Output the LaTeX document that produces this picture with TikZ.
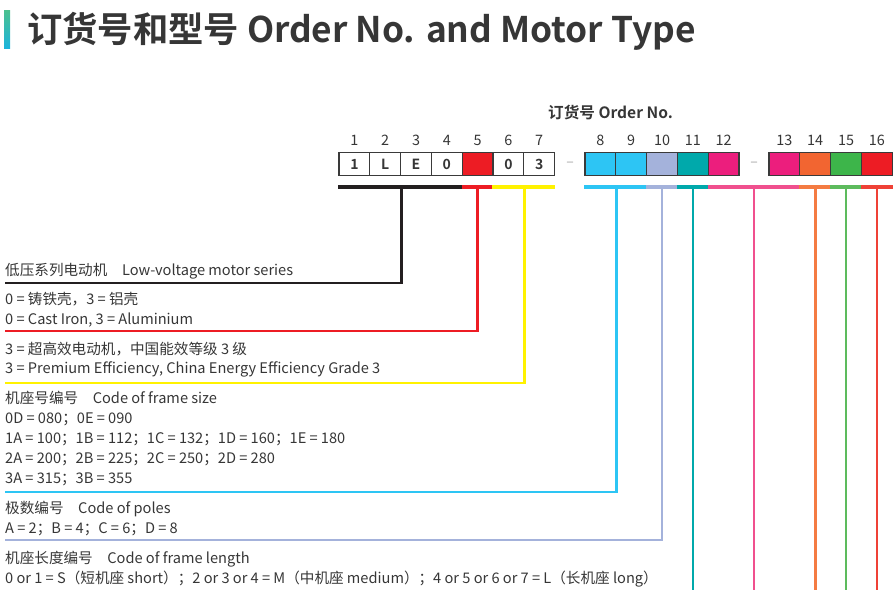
\documentclass[tikz,border=0pt]{standalone}
\usepackage{fontspec}
\setmainfont{Noto Sans CJK SC}[BoldFont={Noto Sans CJK SC Bold}]
\usetikzlibrary{calc}

\definecolor{ink}{HTML}{363636}
\definecolor{cellline}{HTML}{3A3A3A}
\definecolor{titlegreen}{HTML}{4CC08E}
\definecolor{titlecyan}{HTML}{1CB4DC}
\definecolor{cblack}{HTML}{231F20}
\definecolor{cred}{HTML}{ED1C24}
\definecolor{cyellow}{HTML}{FFF200}
\definecolor{csky}{HTML}{2DC5F4}
\definecolor{clav}{HTML}{A4B2DB}
\definecolor{cteal}{HTML}{00A9AB}
\definecolor{cpink}{HTML}{EC1E7D}
\definecolor{lpink}{HTML}{F0508E}
\definecolor{corange}{HTML}{F26531}
\definecolor{lorange}{HTML}{F47B42}
\definecolor{cgreen}{HTML}{3DB54A}
\definecolor{lgreen}{HTML}{5DBB5D}
\definecolor{lred}{HTML}{EF4136}

\tikzset{
  title/.style={anchor=base west, inner sep=0pt, text=ink, font=\bfseries\fontsize{35.3}{40}\selectfont},
  head/.style={anchor=base west, inner sep=0pt, text=ink, font=\bfseries\fontsize{15.6}{18}\selectfont},
  num/.style={anchor=base, inner sep=0pt, text=ink, font=\fontsize{14.4}{16}\selectfont},
  cell/.style={draw=cellline, line width=1.2pt, minimum width=30.8pt, minimum height=23pt, inner sep=0pt, text=ink, font=\bfseries\fontsize{14}{16}\selectfont},
  sep/.style={inner sep=0pt, text=gray!70, font=\fontsize{14}{16}\selectfont},
  txt/.style={anchor=base west, inner sep=0pt, text=ink, font=\fontsize{14.6}{16}\selectfont},
  bar/.style={line width=3.2pt},
  link/.style={line width=2.6pt}
}

\begin{document}
\begin{tikzpicture}[x=1pt,y=-1pt]
\useasboundingbox (0,0) rectangle (895,590);

% title
\shade[top color=titlegreen, bottom color=titlecyan] (4,10) rectangle (10,48);
\node[title] (title) at (27,42) {订货号和型号 Order No. and Motor Type};

% order number
\node[head] (head) at (548,118) {订货号 Order No.};

\foreach \i/\x/\t/\f in {1/354.4/1/white, 2/385.2/L/white, 3/416/E/white, 4/446.8/0/white,
    5/477.6/{}/cred, 6/508.4/0/white, 7/539.2/3/white,
    8/600.4/{}/csky, 9/631.2/{}/csky, 10/662/{}/clav, 11/692.8/{}/cteal, 12/723.6/{}/cpink,
    13/784.4/{}/cpink, 14/815.2/{}/corange, 15/846/{}/cgreen, 16/876.8/{}/cred}{
  \node[cell, fill=\f] (c\i) at (\x,164) {\t};
  \node[num] (n\i) at (\x,145.5) {\i};
}

\node[sep] (d1) at (570,164) {–};
\node[sep] (d2) at (754,164) {–};

\coordinate (bar) at (0,187);
\coordinate (bottom) at (0,590);
\coordinate (mid) at ($(c12)!0.5!(c13)$);

% colour bars
\draw[bar,cblack] (c1.west |- bar) -- (c4.east |- bar);
\draw[bar,cred] (c5.west |- bar) -- (c5.east |- bar);
\draw[bar,cyellow] (c6.west |- bar) -- (c7.east |- bar);
\draw[bar,csky] (c8.west |- bar) -- (c9.east |- bar);
\draw[bar,clav] (c10.west |- bar) -- (c10.east |- bar);
\draw[bar,cteal] (c11.west |- bar) -- (c11.east |- bar);
\draw[bar,lpink] (c12.west |- bar) -- (c13.east |- bar);
\draw[bar,lorange] (c14.west |- bar) -- (c14.east |- bar);
\draw[bar,lgreen] (c15.west |- bar) -- (c15.east |- bar);
\draw[bar,lred] (c16.west |- bar) -- (c16.east |- bar);

% line ends
\coordinate (e1) at (5,283);
\coordinate (e2) at (5,331);
\coordinate (e3) at (5,383);
\coordinate (e4) at (5,492);
\coordinate (e5) at (5,540);

\draw[link,cblack] (c2.east |- bar) |- (e1);
\draw[link,cred] (c5 |- bar) |- (e2);
\draw[link,cyellow] (c6.east |- bar) |- (e3);
\draw[link,csky] (c8.east |- bar) |- (e4);
\draw[link,clav] (c10 |- bar) |- (e5);
\draw[link,cteal] (c11 |- bar) -- (c11 |- bottom);
\draw[link,lpink] (mid |- bar) -- (mid |- bottom);
\draw[link,lorange] (c14 |- bar) -- (c14 |- bottom);
\draw[link,lgreen] (c15 |- bar) -- (c15 |- bottom);
\draw[link,lred] (c16 |- bar) -- (c16 |- bottom);

% descriptions
\node[txt] (t1) at (5,275) {低压系列电动机\quad Low-voltage motor series};
\node[txt] (t2) at (5,304) {0 = 铸铁壳，3 = 铝壳};
\node[txt] (t3) at (5,324) {0 = Cast Iron, 3 = Aluminium};
\node[txt] (t4) at (5,354) {3 = 超高效电动机，中国能效等级 3 级};
\node[txt] (t5) at (5,373) {3 = Premium Efficiency, China Energy Efficiency Grade 3};
\node[txt] (t6) at (5,403) {机座号编号\quad Code of frame size};
\node[txt] (t7) at (5,423) {0D = 080；0E = 090};
\node[txt] (t8) at (5,443) {1A = 100；1B = 112；1C = 132；1D = 160；1E = 180};
\node[txt] (t9) at (5,463) {2A = 200；2B = 225；2C = 250；2D = 280};
\node[txt] (t10) at (5,483) {3A = 315；3B = 355};
\node[txt] (t11) at (5,513) {极数编号\quad Code of poles};
\node[txt] (t12) at (5,533) {A = 2；B = 4；C = 6；D = 8};
\node[txt] (t13) at (5,563) {机座长度编号\quad Code of frame length};
\node[txt] (t14) at (5,583) {0 or 1 = S（短机座 short）；2 or 3 or 4 = M（中机座 medium）；4 or 5 or 6 or 7 = L（长机座 long）};

\end{tikzpicture}
\end{document}
